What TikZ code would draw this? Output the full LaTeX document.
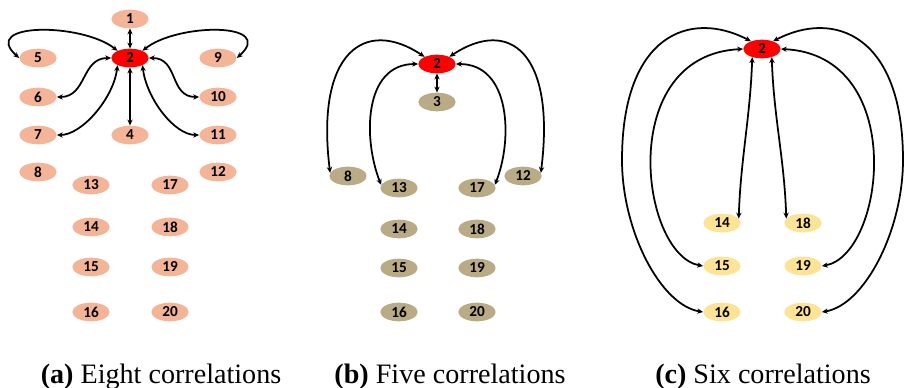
\documentclass[tikz,border=0pt]{standalone}
\usepackage{fontspec}
\setmainfont{Liberation Serif}
\newfontfamily\numfont{Carlito}
\usetikzlibrary{shapes.geometric,arrows.meta}
\definecolor{peachcol}{RGB}{244,180,152}
\definecolor{khakicol}{RGB}{184,171,134}
\definecolor{buttercol}{RGB}{253,227,150}
\begin{document}
\begin{tikzpicture}[x=0.03cm,y=-0.03cm,
    vert/.style={ellipse,minimum width=1.12cm,minimum height=0.56cm,inner sep=0pt,
      font=\numfont\bfseries\fontsize{13}{13}\selectfont},
    peach/.style={vert,fill=peachcol},
    khaki/.style={vert,fill=khakicol},
    butter/.style={vert,fill=buttercol},
    hub/.style={vert,fill=red},
    link/.style={line width=1.5pt,{Stealth[length=5pt,width=4.5pt]}-{Stealth[length=5pt,width=4.5pt]}},
    caption/.style={anchor=base,font=\fontsize{24}{28}\selectfont}]
    \useasboundingbox (0,0) rectangle (912,388);

    % (a) eight correlations
    \node[peach] (a1) at (130,19) {1};
    \node[hub] (a2) at (130,58) {2};
    \node[peach] (a4) at (130,135) {4};
    \node[peach] (a5) at (38,58) {5};
    \node[peach] (a6) at (38,97) {6};
    \node[peach] (a7) at (38,135) {7};
    \node[peach] (a8) at (38,172) {8};
    \node[peach] (a9) at (218,58) {9};
    \node[peach] (a10) at (218,97) {10};
    \node[peach] (a11) at (218,135) {11};
    \node[peach] (a12) at (218,172) {12};
    \node[peach] (a13) at (91,185) {13};
    \node[peach] (a14) at (91,227) {14};
    \node[peach] (a15) at (91,267) {15};
    \node[peach] (a16) at (91,312) {16};
    \node[peach] (a17) at (170,185) {17};
    \node[peach] (a18) at (170,227) {18};
    \node[peach] (a19) at (170,267) {19};
    \node[peach] (a20) at (170,312) {20};

    \draw[link] (a2.north) -- (a1.south);
    \draw[link] (a2.south) -- (a4.north);
    \draw[link] (a2.150) .. controls +(-35,-28) and +(-40,-36) .. (a5.west);
    \draw[link] (a2.30) .. controls +(35,-28) and +(40,-36) .. (a9.east);
    \draw[link] (a2.west) .. controls +(-30,0) and +(30,0) .. (a6.east);
    \draw[link] (a2.east) .. controls +(30,0) and +(-30,0) .. (a10.west);
    \draw[link] (a2.-150) .. controls +(-4,33) and +(25,0) .. (a7.east);
    \draw[link] (a2.-30) .. controls +(4,33) and +(-25,0) .. (a11.west);

    \node[caption] (capa) at (161,383) {\textbf{(a)} Eight correlations};

    % (b) five correlations
    \node[hub] (b2) at (437,64) {2};
    \node[khaki] (b3) at (437,102) {3};
    \node[khaki] (b8) at (348,176) {8};
    \node[khaki] (b12) at (523,176) {12};
    \node[khaki] (b13) at (399,188) {13};
    \node[khaki] (b14) at (399,229) {14};
    \node[khaki] (b15) at (399,268) {15};
    \node[khaki] (b16) at (399,312) {16};
    \node[khaki] (b17) at (477,188) {17};
    \node[khaki] (b18) at (477,229) {18};
    \node[khaki] (b19) at (477,268) {19};
    \node[khaki] (b20) at (477,312) {20};

    \draw[link] (b2.south) -- (b3.north);
    \draw[link] (b2.150) .. controls +(-60,-40) and +(-15,-120) .. (b8.170);
    \draw[link] (b2.west) .. controls +(-55,0) and +(-18,-45) .. (b13.170);
    \draw[link] (b2.east) .. controls +(55,0) and +(18,-45) .. (b17.10);
    \draw[link] (b2.30) .. controls +(60,-40) and +(15,-120) .. (b12.10);

    \node[caption] (capb) at (450,383) {\textbf{(b)} Five correlations};

    % (c) six correlations
    \node[hub] (c2) at (762,49) {2};
    \node[butter] (c14) at (722,223) {14};
    \node[butter] (c15) at (722,266) {15};
    \node[butter] (c16) at (722,312) {16};
    \node[butter] (c18) at (803,223) {18};
    \node[butter] (c19) at (803,266) {19};
    \node[butter] (c20) at (803,312) {20};
    \coordinate (l16) at (622,160);
    \coordinate (r20) at (903,160);

    \draw[link] (c2.-140) .. controls +(-2,60) and +(2,-60) .. (c14.15);
    \draw[link] (c2.-40) .. controls +(2,60) and +(-2,-60) .. (c18.165);
    \draw[link] (c2.west) .. controls +(-128,6) and +(-63,-11) .. (c15.west);
    \draw[link] (c2.east) .. controls +(128,6) and +(63,-11) .. (c19.east);
    \draw[link] (c2.145) .. controls +(-61,-32) and +(0,-125) .. (l16)
        .. controls +(0,70) and +(-43,-7) .. (c16.west);
    \draw[link] (c2.35) .. controls +(61,-32) and +(0,-125) .. (r20)
        .. controls +(0,70) and +(43,-7) .. (c20.east);

    \node[caption] (capc) at (763,383) {\textbf{(c)} Six correlations};
\end{tikzpicture}
\end{document}
